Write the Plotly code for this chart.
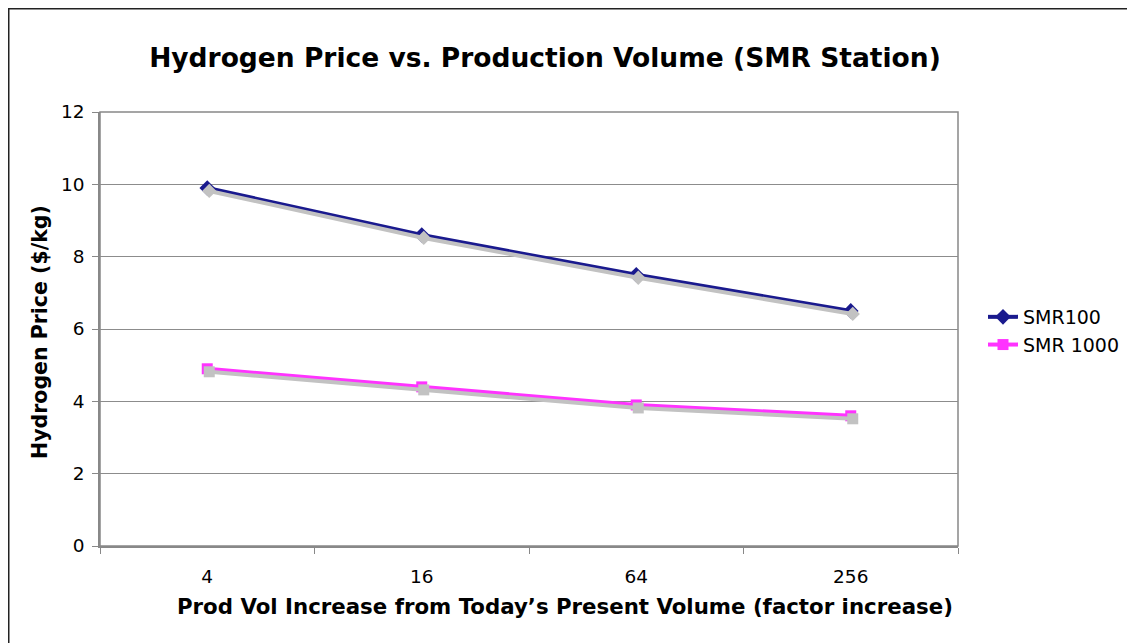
import plotly.graph_objects as go

categories = ["4", "16", "64", "256"]
smr100 = [9.9, 8.6, 7.5, 6.5]
smr1000 = [4.9, 4.4, 3.9, 3.6]
y_ticks = [0, 2, 4, 6, 8, 10, 12]

W, H = 1135, 643
L, R, T, B = 92, 185, 104, 105
plot_w = W - L - R
plot_h = H - T - B
sy = 3 * 12 / plot_h          # shadow offset down (3px)
sx = 2 * 4 / plot_w           # shadow offset right (2px)


def px(fx):
    return (fx - L) / plot_w


def py(fy):
    return (H - B - fy) / plot_h


fig = go.Figure()

# shadows
for vals, sym in [(smr100, "diamond"), (smr1000, "square")]:
    fig.add_trace(go.Scatter(
        x=categories, y=vals, xaxis="x2", yaxis="y2", mode="lines+markers",
        line=dict(color="#c2c2c2", width=4),
        marker=dict(symbol=sym, size=11, color="#c2c2c2"),
        showlegend=False, hoverinfo="skip"))

fig.add_trace(go.Scatter(
    x=categories, y=smr100, name="SMR100", mode="lines+markers",
    line=dict(color="#1a1a8e", width=4),
    marker=dict(symbol="diamond", size=12, color="#1a1a8e")))
fig.add_trace(go.Scatter(
    x=categories, y=smr1000, name="SMR 1000", mode="lines+markers",
    line=dict(color="#ff33ff", width=4),
    marker=dict(symbol="square", size=11, color="#ff33ff")))

font = "Verdana, DejaVu Sans, sans-serif"
fig.update_layout(
    width=W, height=H,
    margin=dict(l=L, r=R, t=T, b=B),
    paper_bgcolor="white", plot_bgcolor="white",
    font=dict(family=font, color="black", size=18),
    title=dict(text="<b>Hydrogen Price vs. Production Volume (SMR Station)</b>",
               x=537 / W, xanchor="center", y=1 - 50 / H, yanchor="middle",
               font=dict(size=26.5, family=font)),
    xaxis=dict(type="category", tickson="boundaries", ticks="outside", ticklen=6,
               tickcolor="#888", showline=True, linecolor="#888", linewidth=1.5,
               showgrid=False, range=[-0.5, 3.5], tickfont=dict(size=18.5),
               ticklabelstandoff=13),
    xaxis2=dict(type="category", overlaying="x", visible=False,
                range=[-0.5 - sx, 3.5 - sx], showgrid=False),
    yaxis=dict(range=[0, 12], tickvals=y_ticks, ticks="outside", ticklen=6,
               tickcolor="#888", showline=True, linecolor="#888", linewidth=1.5,
               gridcolor="#8c8c8c", gridwidth=1, zeroline=False,
               tickfont=dict(size=18.5), ticklabelstandoff=4),
    yaxis2=dict(range=[0 + sy, 12 + sy], overlaying="y",
                visible=False, showgrid=False),
    legend=dict(x=px(975), xref="paper", y=py(290), yref="paper",
                xanchor="left", yanchor="top", bgcolor="rgba(0,0,0,0)",
                font=dict(size=19), tracegroupgap=4),
    annotations=[
        dict(text="<b>Prod Vol Increase from Today’s Present Volume (factor increase)</b>",
             xref="paper", yref="paper", x=px(557), y=py(598), showarrow=False,
             xanchor="center", yanchor="middle", font=dict(size=21.3)),
        dict(text="<b>Hydrogen Price ($/kg)</b>", textangle=-90,
             xref="paper", yref="paper", x=px(32), y=py(324), showarrow=False,
             xanchor="center", yanchor="middle", font=dict(size=20.5)),
    ],
    shapes=[
        dict(type="rect", xref="x domain", yref="y domain", x0=0, x1=1, y0=0, y1=1,
             line=dict(color="#888", width=1.5), layer="below"),
        dict(type="rect", xref="paper", yref="paper",
             x0=px(0), x1=px(W + 20), y0=py(H + 20), y1=py(0),
             line=dict(color="#222", width=3)),
    ],
)

fig.write_html("out.html")
